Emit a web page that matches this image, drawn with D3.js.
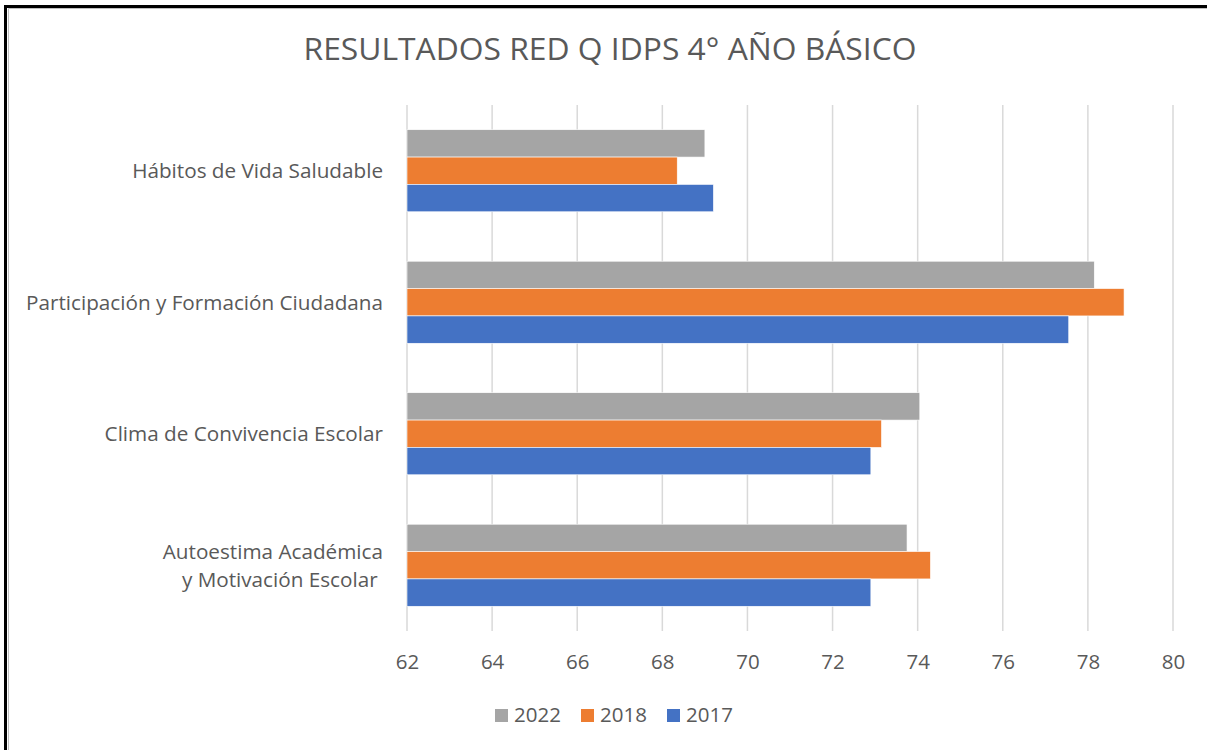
<!DOCTYPE html>
<html>
<head>
<meta charset="utf-8">
<script src="https://cdn.jsdelivr.net/npm/d3@7"></script>
<style>
  html, body { margin: 0; padding: 0; background: #fff; }
</style>
</head>
<body>
<script>
// chart data
const categories = [
  'Hábitos de Vida Saludable',
  'Participación y Formación Ciudadana',
  'Clima de Convivencia Escolar',
  'Autoestima Académica|y Motivación Escolar '
];
const seriesNames = ['2022', '2018', '2017'];
const v2022 = [69.0, 78.15, 74.05, 73.75];
const v2018 = [68.35, 78.85, 73.15, 74.3];
const v2017 = [69.2, 77.55, 72.9, 72.9];
const tickValues = [62, 64, 66, 68, 70, 72, 74, 76, 78, 80];
const colors = ['#A5A5A5', '#ED7D31', '#4472C4'];

const W = 1207, H = 750;
const FONT = '"Open Sans", "DejaVu Sans", sans-serif';
const TEXT = '#595959';

const svg = d3.select('body').append('svg')
  .attr('width', W).attr('height', H)
  .attr('viewBox', `0 0 ${W} ${H}`);
svg.append('rect').attr('width', W).attr('height', H).attr('fill', '#fff');

// frame (only top and left edges are visible in the crop)
svg.append('rect')
  .attr('x', 5.5).attr('y', 6.5).attr('width', W + 20).attr('height', H + 20)
  .attr('fill', 'none').attr('stroke', '#000').attr('stroke-width', 3);
svg.append('path')
  .attr('d', `M8.5,${H + 5} V8.5 H${W + 5}`)
  .attr('fill', 'none').attr('stroke', '#bfbfbf').attr('stroke-width', 1);

const plot = { left: 407, right: 1173, top: 105, bottom: 631 };

const x = d3.scaleLinear().domain([62, 80]).range([plot.left, plot.right]);
const y = d3.scaleBand().domain(categories).range([plot.top, plot.bottom])
  .paddingInner(0.376).paddingOuter(0.188);
const ySub = d3.scaleBand().domain(seriesNames).range([0, y.bandwidth()]);

// title
svg.append('text')
  .attr('x', 610).attr('y', 51)
  .attr('text-anchor', 'middle').attr('dominant-baseline', 'middle')
  .attr('font-family', FONT).attr('font-size', 31.8)
  .attr('fill', TEXT)
  .text('RESULTADOS RED Q IDPS 4° AÑO BÁSICO');

// gridlines
svg.append('g').selectAll('line').data(tickValues).join('line')
  .attr('x1', d => x(d)).attr('x2', d => x(d))
  .attr('y1', plot.top).attr('y2', plot.bottom)
  .attr('stroke', '#D9D9D9').attr('stroke-width', 1.5);

// bars
const series = seriesNames.map((name, i) => ({
  name, color: colors[i], values: [v2022, v2018, v2017][i]
}));
const gBars = svg.append('g');
series.forEach(s => {
  gBars.selectAll(null).data(categories).join('rect')
    .attr('x', x(62))
    .attr('y', c => y(c) + ySub(s.name))
    .attr('width', (c, i) => x(s.values[i]) - x(62))
    .attr('height', ySub.bandwidth())
    .attr('fill', s.color)
    .attr('stroke', '#fff').attr('stroke-width', 0.6);
});

// category labels
categories.forEach(c => {
  const lines = c.split('|');
  const cy = y(c) + y.bandwidth() / 2 + 2;
  const lh = 28;
  lines.forEach((ln, j) => {
    svg.append('text')
      .attr('x', 383)
      .attr('y', cy + (j - (lines.length - 1) / 2) * lh)
      .attr('text-anchor', 'end').attr('dominant-baseline', 'middle')
      .attr('font-family', FONT).attr('font-size', 20.7)
      .attr('fill', TEXT)
      .attr('xml:space', 'preserve')
      .style('white-space', 'pre')
      .text(ln);
  });
});

// x axis labels
const xAxis = svg.append('g')
  .attr('transform', `translate(0,${plot.bottom + 10})`)
  .call(d3.axisBottom(x).tickValues(tickValues).tickSize(0).tickPadding(13));
xAxis.select('.domain').remove();
xAxis.selectAll('text')
  .attr('font-family', FONT).attr('font-size', 20.5).attr('fill', TEXT);

// legend
const legendX = [495, 581, 667];
const gLeg = svg.append('g');
series.forEach((s, i) => {
  gLeg.append('rect')
    .attr('x', legendX[i]).attr('y', 709)
    .attr('width', 13).attr('height', 13)
    .attr('fill', s.color);
  gLeg.append('text')
    .attr('x', legendX[i] + 19).attr('y', 717)
    .attr('dominant-baseline', 'middle')
    .attr('font-family', FONT).attr('font-size', 20.5)
    .attr('fill', TEXT)
    .text(s.name);
});
</script>
</body>
</html>
